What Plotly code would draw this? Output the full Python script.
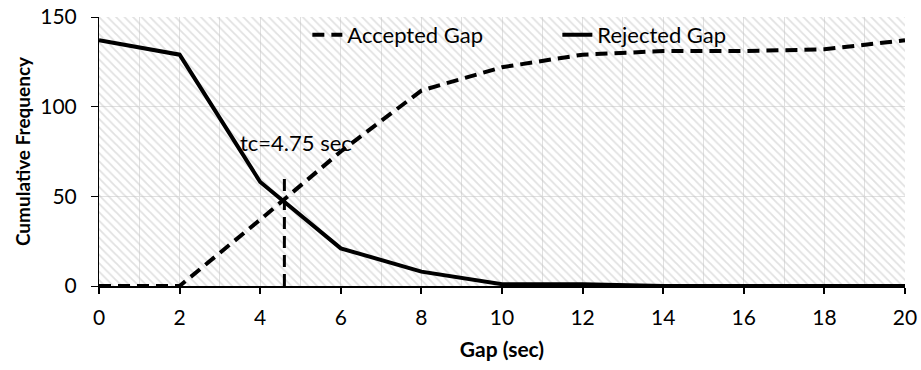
import plotly.graph_objects as go

# ---- data ----
gap_sec = [0, 2, 4, 6, 8, 10, 12, 14, 16, 18, 20]
accepted_gap = [0, 0, 37, 75, 109, 122, 129, 131, 131, 132, 137]
rejected_gap = [137, 129, 58, 21, 8, 1, 1, 0, 0, 0, 0]
tc_line_x = [4.6, 4.6]
tc_line_y = [0, 60]
tc_label = "tc=4.75 sec"
tc_label_pos = (4.9, 80)
y_max = 150
x_ticks = list(range(0, 21, 2))
y_ticks = [0, 50, 100, 150]

FONT = "Lato, Carlito, Calibri, sans-serif"

fig = go.Figure()

# hatched plot-area background
x0, x1 = min(gap_sec), max(gap_sec)
fig.add_trace(go.Scatter(
    x=[x0, x1, x1, x0, x0], y=[0, 0, y_max, y_max, 0],
    mode="none", fill="toself",
    fillpattern=dict(shape="\\", fgcolor="#c4c4c4", bgcolor="rgba(0,0,0,0)",
                     size=6, solidity=0.3),
    showlegend=False, hoverinfo="skip"))

fig.add_trace(go.Scatter(
    x=gap_sec, y=accepted_gap, mode="lines", name="Accepted Gap",
    line=dict(color="black", width=4, dash="12px,7px")))
fig.add_trace(go.Scatter(
    x=gap_sec, y=rejected_gap, mode="lines", name="Rejected Gap",
    line=dict(color="black", width=4)))
fig.add_trace(go.Scatter(
    x=tc_line_x, y=tc_line_y, mode="lines", showlegend=False,
    line=dict(color="black", width=3, dash="12px,7px")))

fig.add_annotation(x=tc_label_pos[0], y=tc_label_pos[1], text=tc_label,
                   showarrow=False, font=dict(family=FONT, size=22, color="black"))

fig.update_layout(
    width=921, height=370,
    margin=dict(l=99, r=16, t=17, b=84),
    paper_bgcolor="white", plot_bgcolor="white",
    font=dict(family=FONT, size=22, color="black"),
    legend=dict(orientation="h", x=0.2585, y=0.933, xanchor="left", yanchor="middle",
                bgcolor="rgba(0,0,0,0)", entrywidth=205, entrywidthmode="pixels",
                font=dict(family=FONT, size=22, color="black")),
    xaxis=dict(
        range=[x0, x1], tickvals=x_ticks, showgrid=True, gridcolor="#e0e0e0", gridwidth=1,
        minor=dict(dtick=1, showgrid=True, gridcolor="#e0e0e0", gridwidth=1),
        showline=True, linecolor="black", linewidth=2,
        ticks="outside", ticklen=6, tickcolor="black", tickwidth=1.5,
        ticklabelstandoff=6,
        zeroline=False, automargin=False,
        title=dict(text="<b>Gap (sec)</b>", font=dict(family=FONT, size=21), standoff=14),
        tickfont=dict(family=FONT, size=21)),
    yaxis=dict(
        range=[0, y_max], tickvals=y_ticks, showgrid=True, gridcolor="#e0e0e0", gridwidth=1,
        showline=True, linecolor="black", linewidth=1,
        ticks="outside", ticklen=7, tickcolor="black",
        ticklabelstandoff=10,
        zeroline=False, automargin=False,
        title=dict(text="<b>Cumulative Frequency</b>", font=dict(family=FONT, size=19), standoff=4),
        tickfont=dict(family=FONT, size=21)),
)

fig.write_html("out.html", config={"displayModeBar": False},
               post_script="document.body.style.margin='0';")
